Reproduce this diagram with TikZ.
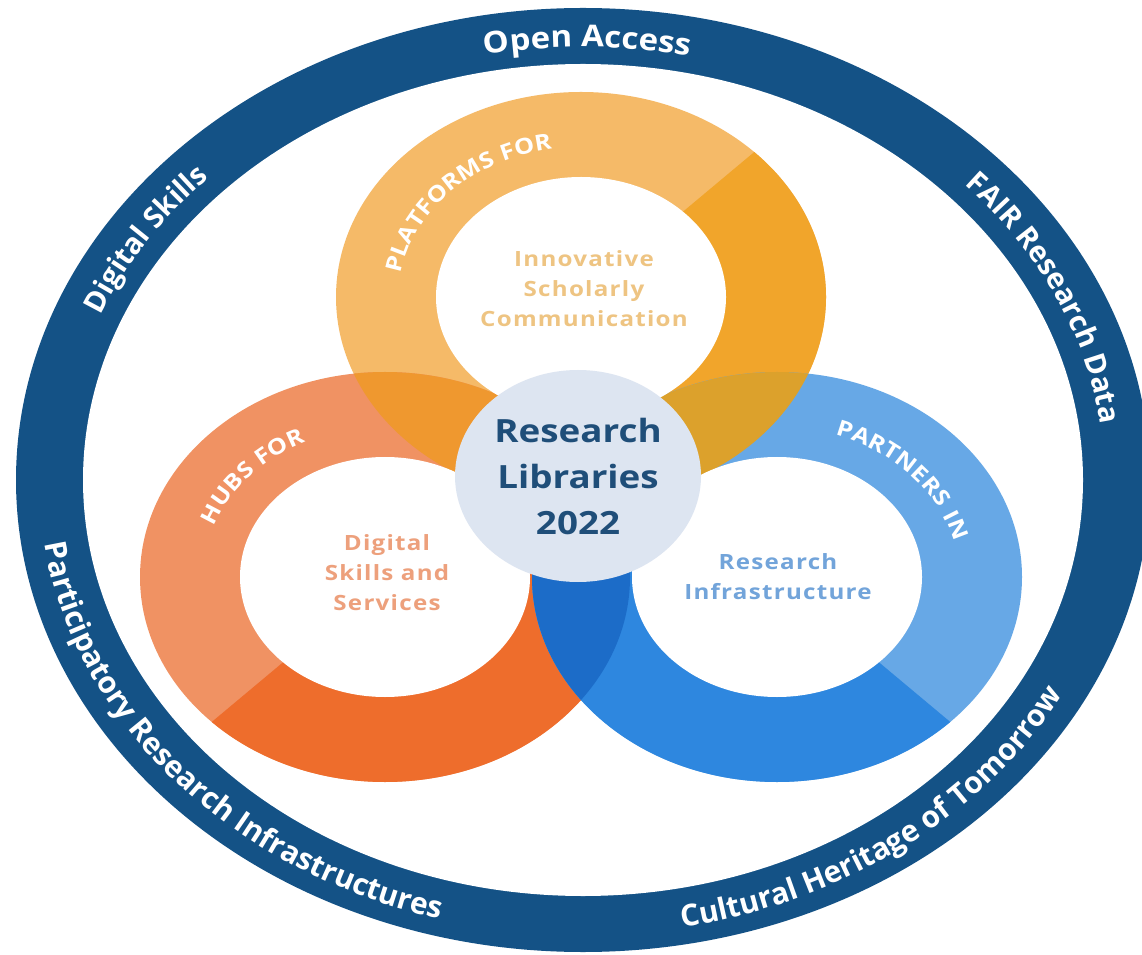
\documentclass[tikz,border=0pt]{standalone}
\usepackage{fontspec}
\newfontfamily\osans[FakeStretch=1.15]{Open Sans}
\newfontfamily\olab[FakeStretch=1.15,LetterSpace=6]{Open Sans}
\newfontfamily\owide[FakeStretch=1.1]{Open Sans}
\newfontfamily\onarrow{Open Sans}
\usetikzlibrary{decorations.text,calc}
\definecolor{ringblue}{RGB}{20,82,134}
\definecolor{topL}{RGB}{245,186,104}
\definecolor{topD}{RGB}{241,165,43}
\definecolor{leftL}{RGB}{240,146,99}
\definecolor{leftD}{RGB}{238,109,44}
\definecolor{rightL}{RGB}{103,168,230}
\definecolor{rightD}{RGB}{46,135,223}
\definecolor{olTL}{RGB}{239,152,47}
\definecolor{olTR}{RGB}{220,161,44}
\definecolor{olLR}{RGB}{28,108,200}
\definecolor{ctrfill}{RGB}{221,229,241}
\definecolor{ctrtext}{RGB}{31,78,121}
\definecolor{topT}{RGB}{238,196,130}
\definecolor{leftT}{RGB}{237,160,124}
\definecolor{rightT}{RGB}{114,164,218}
\tikzset{
  outerwide/.style={decorate, decoration={text along path, text align=center, text color=white, text={|\owide\bfseries\fontsize{30}{36}\selectfont|#1}}},
  outerlabel/.style={decorate, decoration={text along path, text align=center, text color=white, text={|\onarrow\bfseries\fontsize{29}{35}\selectfont|#1}}},
  outerlow/.style={decorate, decoration={text along path, text align=center, text color=white, text={|\onarrow\bfseries\fontsize{30}{36}\selectfont|#1}}},
  ringlabel/.style={decorate, decoration={text along path, text align=center, text color=white, text={|\olab\bfseries\fontsize{22}{26}\selectfont|#1}}},
  innertext/.style={font=\olab\bfseries\fontsize{21}{30}\selectfont, align=center},
}
\begin{document}
\begin{tikzpicture}[x=1pt,y=1pt]
\useasboundingbox (0,0) rectangle (1142,954);
\fill[white] (0,0) rectangle (1142,954);
% outer ring
\coordinate (O) at (583,474);
\fill[ringblue] (O) ellipse[x radius=567, y radius=472];
\fill[white] (O) ellipse[x radius=500, y radius=416];
% ring centres
\coordinate (T) at (581,657);
\coordinate (L) at (385,377);
\coordinate (R) at (777,377);
\coordinate (C) at (578,478);
% top ring
\fill[topL] (T) ellipse[x radius=245, y radius=205];
\fill[topD] (T) -- ++(-100:245 and 205) arc[start angle=-100, end angle=45, x radius=245, y radius=205] -- cycle;
% left ring
\fill[leftL] (L) ellipse[x radius=245, y radius=205];
\fill[leftD] (L) -- ++(225:245 and 205) arc[start angle=225, end angle=400, x radius=245, y radius=205] -- cycle;
% right ring
\fill[rightL] (R) ellipse[x radius=245, y radius=205];
\fill[rightD] (R) -- ++(135:245 and 205) arc[start angle=135, end angle=315, x radius=245, y radius=205] -- cycle;
% overlaps
\begin{scope}
  \clip (T) ellipse[x radius=245, y radius=205];
  \fill[olTL] (L) ellipse[x radius=245, y radius=205];
  \fill[olTR] (R) ellipse[x radius=245, y radius=205];
\end{scope}
\begin{scope}
  \clip (L) ellipse[x radius=245, y radius=205];
  \fill[olLR] (R) ellipse[x radius=245, y radius=205];
\end{scope}
% holes
\fill[white] (T) ellipse[x radius=145, y radius=120];
\fill[white] (L) ellipse[x radius=145, y radius=120];
\fill[white] (R) ellipse[x radius=145, y radius=120];
% centre
\fill[ctrfill] (C) ellipse[x radius=123, y radius=106];
\node[font=\osans\bfseries\fontsize{32}{46}\selectfont, text=ctrtext, align=center] (ctr) at (C) {Research\\Libraries\\2022};
% inner texts
\node[innertext, text=topT] (isc) at (584,665) {Innovative\\Scholarly\\Communication};
\node[innertext, text=leftT] (dss) at (387,381) {Digital\\Skills and\\Services};
\node[innertext, text=rightT] (rin) at (778,377) {Research\\Infrastructure};
% ring labels
\path[ringlabel={PLATFORMS FOR}] (T) ++(181:182 and 150) arc[start angle=181, end angle=91, x radius=182, y radius=150];
\path[ringlabel={HUBS FOR}] (L) ++(185:182 and 150) arc[start angle=185, end angle=95, x radius=182, y radius=150];
\path[ringlabel={PARTNERS IN}] (R) ++(86:182 and 150) arc[start angle=86, end angle=-4, x radius=182, y radius=150];
% outer labels
\path[outerwide={Open Access}] (O) ++(134.5:522 and 433) arc[start angle=134.5, end angle=44.5, x radius=522, y radius=433];
\path[outerlabel={Digital Skills}] (O) ++(194:522 and 433) arc[start angle=194, end angle=104, x radius=522, y radius=433];
\path[outerlabel={FAIR Research Data}] (O) ++(68.5:522 and 433) arc[start angle=68.5, end angle=-21.5, x radius=522, y radius=433];
\path[outerlow={Participatory Research Infrastructures}] (O) ++(170:544 and 455) arc[start angle=170, end angle=270, x radius=544, y radius=455];
\path[outerlow={Cultural Heritage of Tomorrow}] (O) ++(260:544 and 455) arc[start angle=260, end angle=356, x radius=544, y radius=455];
\end{tikzpicture}
\end{document}
